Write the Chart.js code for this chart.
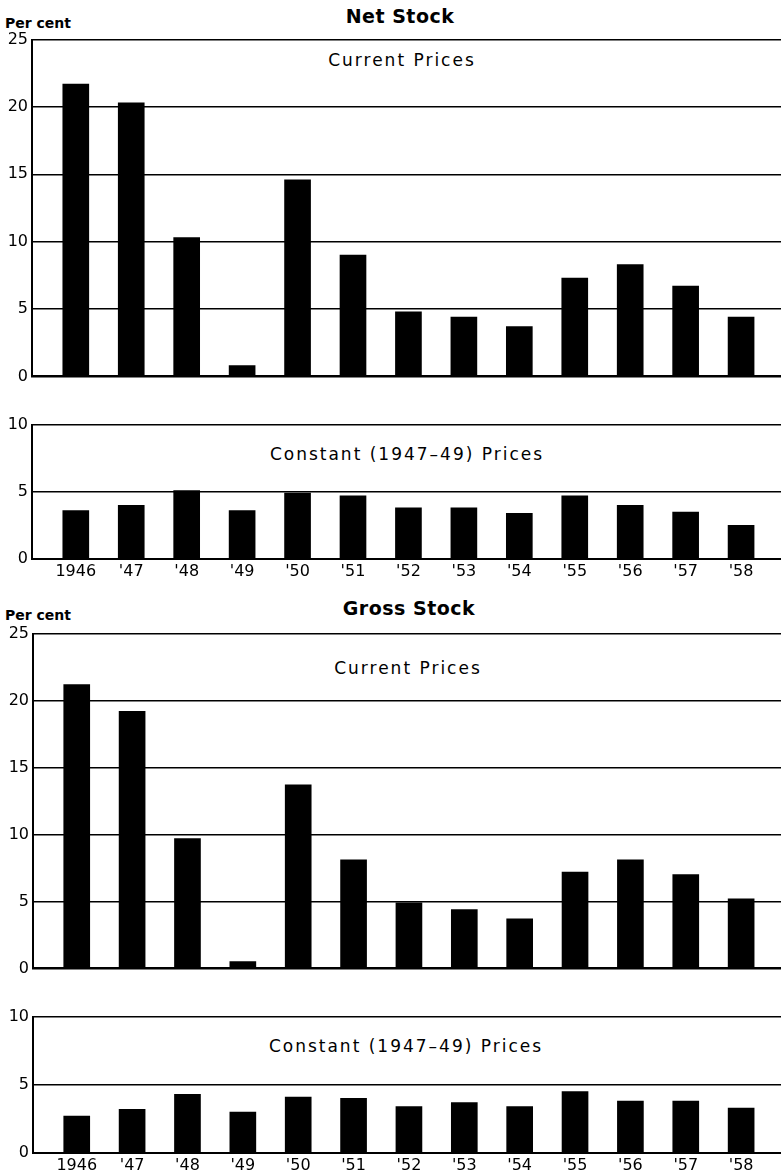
<!DOCTYPE html>
<html>
<head>
<meta charset="utf-8">
<script src="https://cdn.jsdelivr.net/npm/chart.js@4"></script>
<style>
  html, body { margin: 0; padding: 0; background: #fff; }
  body { width: 781px; height: 1176px; position: relative; overflow: hidden; font-family: "DejaVu Sans", sans-serif; color: #000; }
  canvas { position: absolute; left: 0; }
  .t { position: absolute; white-space: nowrap; transform: translate(-50%, -50%); }
  .title { font-weight: bold; font-size: 19px; letter-spacing: 0.5px; }
  .sub { font-size: 17px; letter-spacing: 2px; }
  .pc { position: absolute; font-size: 14px; font-weight: 600; transform: translateY(-50%); }
</style>
</head>
<body>
<div class="pc" style="left:5px; top:23px;">Per cent</div>
<div class="t title" style="left:400px; top:16px;">Net Stock</div>
<div class="t sub" style="left:402px; top:60px;">Current Prices</div>
<div class="t sub" style="left:407px; top:454px;">Constant (1947–49) Prices</div>

<div class="pc" style="left:5px; top:615px;">Per cent</div>
<div class="t title" style="left:409px; top:608px;">Gross Stock</div>
<div class="t sub" style="left:408px; top:668px;">Current Prices</div>
<div class="t sub" style="left:406px; top:1046px;">Constant (1947–49) Prices</div>

<canvas id="c1" width="781" height="364" style="top:26px"></canvas>
<canvas id="c2" width="781" height="174" style="top:411px"></canvas>
<canvas id="c3" width="781" height="362" style="top:620px"></canvas>
<canvas id="c4" width="781" height="172" style="top:1003px"></canvas>

<script>
// ---- data ----
const years = ["1946", "'47", "'48", "'49", "'50", "'51", "'52", "'53", "'54", "'55", "'56", "'57", "'58"];
const netCurrent    = [21.7, 20.3, 10.3, 0.8, 14.6, 9.0, 4.8, 4.4, 3.7, 7.3, 8.3, 6.7, 4.4];
const netConstant   = [3.6, 4.0, 5.1, 3.6, 4.9, 4.7, 3.8, 3.8, 3.4, 4.7, 4.0, 3.5, 2.5];
const grossCurrent  = [21.2, 19.2, 9.7, 0.5, 13.7, 8.1, 4.9, 4.4, 3.7, 7.2, 8.1, 7.0, 5.2];
const grossConstant = [2.7, 3.2, 4.3, 3.0, 4.1, 4.0, 3.4, 3.7, 3.4, 4.5, 3.8, 3.8, 3.3];
const currentTicks  = [0, 5, 10, 15, 20, 25];
const constantTicks = [0, 5, 10];

Chart.defaults.font.family = "'DejaVu Sans', sans-serif";
Chart.defaults.font.size = 16;
Chart.defaults.color = '#000';

function makePanel(id, values, yTicks, showX, xHeight, axisW) {
  const yMax = yTicks[yTicks.length - 1];
  new Chart(document.getElementById(id), {
    type: 'bar',
    data: {
      datasets: [{
        data: values.map((v, i) => ({ x: i, y: v })),
        backgroundColor: '#000',
        borderWidth: 0,
        barThickness: 26
      }]
    },
    options: {
      responsive: false,
      animation: false,
      events: [],
      layout: { padding: { top: 10, right: 0, bottom: 0, left: 0 } },
      plugins: { legend: { display: false }, tooltip: { enabled: false }, title: { display: false } },
      scales: {
        x: {
          type: 'linear',
          offset: false,
          min: -0.79,
          max: 12.72,
          afterBuildTicks: s => { s.ticks = years.map((_, i) => ({ value: i })); },
          afterFit: s => { s.height = xHeight; },
          grid: { display: false, drawTicks: false, offset: false },
          border: { display: true, color: '#000', width: 2 },
          ticks: {
            display: showX,
            padding: 3,
            maxRotation: 0,
            autoSkip: false,
            font: { size: 16 },
            callback: v => years[v] || ''
          }
        },
        y: {
          min: 0,
          max: yMax,
          afterBuildTicks: s => { s.ticks = yTicks.map(v => ({ value: v })); },
          afterFit: s => { s.width = axisW; },
          grid: { color: '#000', lineWidth: 1.6, drawTicks: false },
          border: { display: true, color: '#000', width: 2 },
          ticks: { padding: 4, font: { size: 16 } }
        }
      }
    }
  });
}

makePanel('c1', netCurrent, currentTicks, false, 4, 32);
makePanel('c2', netConstant, constantTicks, true, 26, 32);
makePanel('c3', grossCurrent, currentTicks, false, 4, 33);
makePanel('c4', grossConstant, constantTicks, true, 22, 33);
</script>
</body>
</html>
